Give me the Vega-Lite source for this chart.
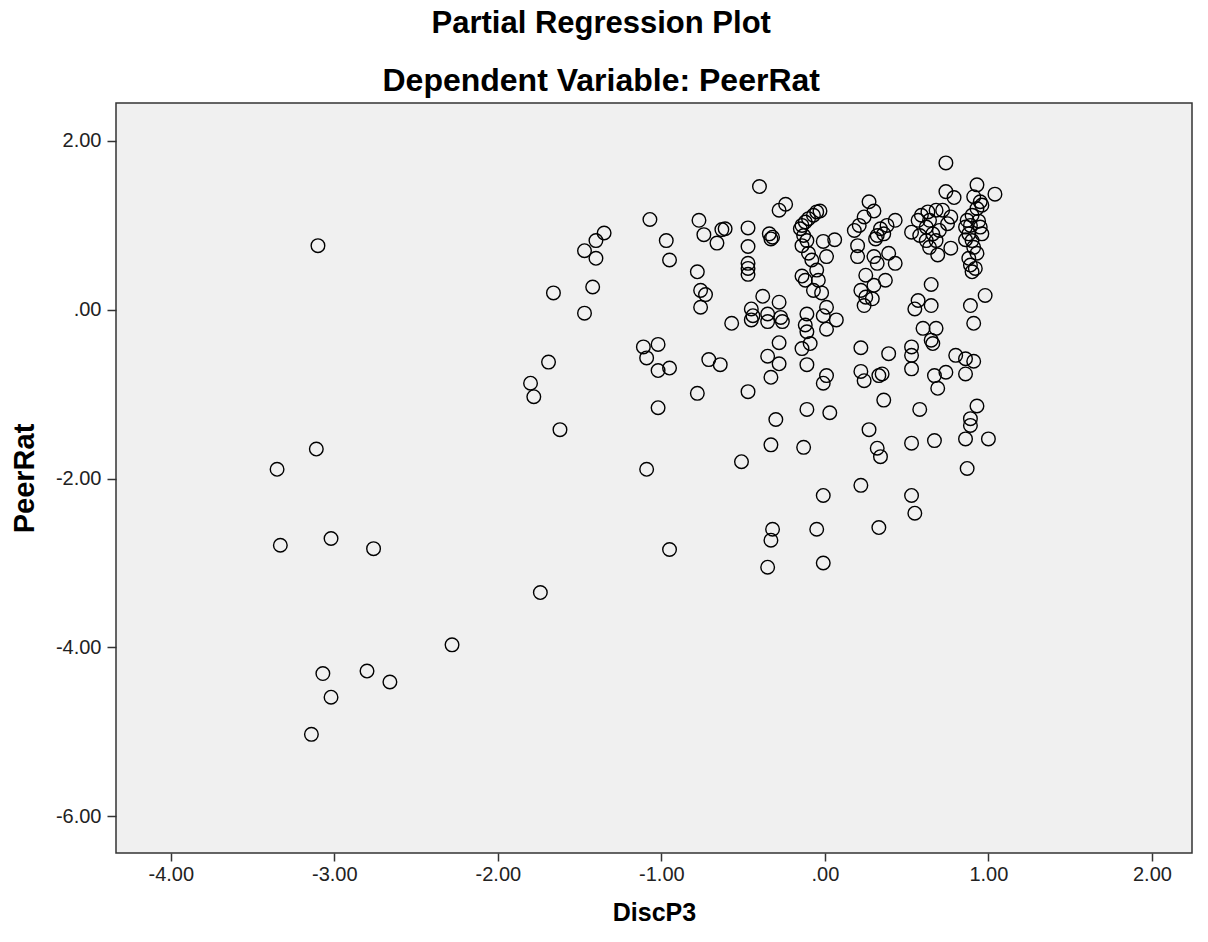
{
 "$schema": "https://vega.github.io/schema/vega-lite/v6.json",
 "width": 1076, "height": 750,
 "autosize": {"type": "none"},
 "padding": {"left": 116, "top": 103, "right": 16, "bottom": 89},
 "background": "white",
 "title": {"text": "Partial Regression Plot", "subtitle": "Dependent Variable: PeerRat", "anchor": "middle", "frame": "bounds", "font": "Liberation Sans", "fontSize": 31, "fontWeight": "bold", "color": "#000", "subtitleFont": "Liberation Sans", "subtitleFontSize": 32, "subtitleFontWeight": "bold", "subtitleColor": "#000", "offset": 5, "subtitlePadding": 26},
 "config": {"view": {"fill": "#f0f0f0", "stroke": "#333", "strokeWidth": 1.5}},
 "data": {"values": [
  {"DiscP3": -3.10, "PeerRat": 0.76}, {"DiscP3": -3.11, "PeerRat": -1.65}, {"DiscP3": -3.35, "PeerRat": -1.89}, {"DiscP3": -3.33, "PeerRat": -2.79}, {"DiscP3": -3.02, "PeerRat": -2.71}, {"DiscP3": -2.76, "PeerRat": -2.83}, {"DiscP3": -2.28, "PeerRat": -3.97}, {"DiscP3": -3.07, "PeerRat": -4.31}, {"DiscP3": -2.80, "PeerRat": -4.28}, {"DiscP3": -2.66, "PeerRat": -4.41}, {"DiscP3": -3.02, "PeerRat": -4.59}, {"DiscP3": -3.14, "PeerRat": -5.03}, {"DiscP3": -1.74, "PeerRat": -3.35}, {"DiscP3": -0.95, "PeerRat": -2.84},
  {"DiscP3": -1.11, "PeerRat": -0.44}, {"DiscP3": -1.02, "PeerRat": -0.41}, {"DiscP3": -1.09, "PeerRat": -0.57}, {"DiscP3": -1.02, "PeerRat": -0.72}, {"DiscP3": -0.95, "PeerRat": -0.69}, {"DiscP3": -1.69, "PeerRat": -0.62}, {"DiscP3": -1.80, "PeerRat": -0.87}, {"DiscP3": -1.78, "PeerRat": -1.03}, {"DiscP3": -1.62, "PeerRat": -1.42}, {"DiscP3": -1.02, "PeerRat": -1.16}, {"DiscP3": -1.09, "PeerRat": -1.89}, {"DiscP3": -0.78, "PeerRat": -0.99},
  {"DiscP3": -1.07, "PeerRat": 1.07}, {"DiscP3": -1.35, "PeerRat": 0.91}, {"DiscP3": -1.40, "PeerRat": 0.82}, {"DiscP3": -1.47, "PeerRat": 0.70}, {"DiscP3": -1.40, "PeerRat": 0.61}, {"DiscP3": -0.97, "PeerRat": 0.82}, {"DiscP3": -0.95, "PeerRat": 0.59}, {"DiscP3": -1.66, "PeerRat": 0.20}, {"DiscP3": -1.42, "PeerRat": 0.27}, {"DiscP3": -1.47, "PeerRat": -0.04}, {"DiscP3": -0.77, "PeerRat": 1.06}, {"DiscP3": -0.78, "PeerRat": 0.45}, {"DiscP3": -0.76, "PeerRat": 0.23}, {"DiscP3": -0.76, "PeerRat": 0.03},
  {"DiscP3": -0.40, "PeerRat": 1.46}, {"DiscP3": -0.28, "PeerRat": 1.18}, {"DiscP3": -0.24, "PeerRat": 1.25}, {"DiscP3": -0.74, "PeerRat": 0.89}, {"DiscP3": -0.66, "PeerRat": 0.79}, {"DiscP3": -0.63, "PeerRat": 0.95}, {"DiscP3": -0.61, "PeerRat": 0.96}, {"DiscP3": -0.47, "PeerRat": 0.97}, {"DiscP3": -0.47, "PeerRat": 0.75}, {"DiscP3": -0.47, "PeerRat": 0.55}, {"DiscP3": -0.47, "PeerRat": 0.49}, {"DiscP3": -0.47, "PeerRat": 0.42}, {"DiscP3": -0.34, "PeerRat": 0.90}, {"DiscP3": -0.32, "PeerRat": 0.86}, {"DiscP3": -0.33, "PeerRat": 0.84}, {"DiscP3": -0.73, "PeerRat": 0.18}, {"DiscP3": -0.57, "PeerRat": -0.16}, {"DiscP3": -0.38, "PeerRat": 0.16}, {"DiscP3": -0.28, "PeerRat": 0.09}, {"DiscP3": -0.45, "PeerRat": 0.01}, {"DiscP3": -0.44, "PeerRat": -0.07}, {"DiscP3": -0.45, "PeerRat": -0.12}, {"DiscP3": -0.35, "PeerRat": -0.05}, {"DiscP3": -0.35, "PeerRat": -0.14}, {"DiscP3": -0.27, "PeerRat": -0.09}, {"DiscP3": -0.26, "PeerRat": -0.14},
  {"DiscP3": -0.14, "PeerRat": 1.00}, {"DiscP3": -0.12, "PeerRat": 1.04}, {"DiscP3": -0.10, "PeerRat": 1.08}, {"DiscP3": -0.07, "PeerRat": 1.12}, {"DiscP3": -0.05, "PeerRat": 1.16}, {"DiscP3": -0.03, "PeerRat": 1.17}, {"DiscP3": -0.15, "PeerRat": 0.96}, {"DiscP3": -0.13, "PeerRat": 0.88}, {"DiscP3": -0.14, "PeerRat": 0.76}, {"DiscP3": -0.11, "PeerRat": 0.82}, {"DiscP3": -0.10, "PeerRat": 0.67}, {"DiscP3": -0.08, "PeerRat": 0.59}, {"DiscP3": -0.01, "PeerRat": 0.81}, {"DiscP3": 0.06, "PeerRat": 0.83}, {"DiscP3": 0.01, "PeerRat": 0.63}, {"DiscP3": -0.14, "PeerRat": 0.40}, {"DiscP3": -0.12, "PeerRat": 0.35}, {"DiscP3": -0.05, "PeerRat": 0.47}, {"DiscP3": -0.04, "PeerRat": 0.35}, {"DiscP3": -0.07, "PeerRat": 0.23}, {"DiscP3": -0.02, "PeerRat": 0.20}, {"DiscP3": 0.01, "PeerRat": 0.03}, {"DiscP3": -0.01, "PeerRat": -0.07}, {"DiscP3": 0.07, "PeerRat": -0.12}, {"DiscP3": 0.01, "PeerRat": -0.23}, {"DiscP3": -0.11, "PeerRat": -0.05}, {"DiscP3": -0.12, "PeerRat": -0.18}, {"DiscP3": -0.11, "PeerRat": -0.26},
  {"DiscP3": -0.28, "PeerRat": -0.39}, {"DiscP3": -0.14, "PeerRat": -0.46}, {"DiscP3": -0.09, "PeerRat": -0.40}, {"DiscP3": -0.35, "PeerRat": -0.55}, {"DiscP3": -0.28, "PeerRat": -0.64}, {"DiscP3": -0.33, "PeerRat": -0.80}, {"DiscP3": -0.11, "PeerRat": -0.65}, {"DiscP3": -0.71, "PeerRat": -0.59}, {"DiscP3": -0.64, "PeerRat": -0.65}, {"DiscP3": -0.47, "PeerRat": -0.97}, {"DiscP3": 0.01, "PeerRat": -0.78}, {"DiscP3": -0.01, "PeerRat": -0.87}, {"DiscP3": -0.11, "PeerRat": -1.18}, {"DiscP3": 0.03, "PeerRat": -1.22}, {"DiscP3": -0.30, "PeerRat": -1.30}, {"DiscP3": -0.33, "PeerRat": -1.60}, {"DiscP3": -0.13, "PeerRat": -1.63}, {"DiscP3": -0.51, "PeerRat": -1.80}, {"DiscP3": -0.01, "PeerRat": -2.20}, {"DiscP3": -0.32, "PeerRat": -2.60}, {"DiscP3": -0.33, "PeerRat": -2.73}, {"DiscP3": -0.05, "PeerRat": -2.60}, {"DiscP3": -0.35, "PeerRat": -3.05}, {"DiscP3": -0.01, "PeerRat": -3.00},
  {"DiscP3": 0.74, "PeerRat": 1.74}, {"DiscP3": 0.74, "PeerRat": 1.40}, {"DiscP3": 0.79, "PeerRat": 1.33}, {"DiscP3": 1.04, "PeerRat": 1.37}, {"DiscP3": 0.93, "PeerRat": 1.48}, {"DiscP3": 0.91, "PeerRat": 1.34}, {"DiscP3": 0.95, "PeerRat": 1.28}, {"DiscP3": 0.27, "PeerRat": 1.28}, {"DiscP3": 0.30, "PeerRat": 1.17}, {"DiscP3": 0.21, "PeerRat": 1.00}, {"DiscP3": 0.24, "PeerRat": 1.10}, {"DiscP3": 0.18, "PeerRat": 0.94}, {"DiscP3": 0.43, "PeerRat": 1.06}, {"DiscP3": 0.38, "PeerRat": 1.00}, {"DiscP3": 0.34, "PeerRat": 0.96}, {"DiscP3": 0.32, "PeerRat": 0.88}, {"DiscP3": 0.31, "PeerRat": 0.84}, {"DiscP3": 0.36, "PeerRat": 0.90}, {"DiscP3": 0.20, "PeerRat": 0.76}, {"DiscP3": 0.20, "PeerRat": 0.63}, {"DiscP3": 0.30, "PeerRat": 0.63}, {"DiscP3": 0.32, "PeerRat": 0.55}, {"DiscP3": 0.39, "PeerRat": 0.67}, {"DiscP3": 0.43, "PeerRat": 0.55}, {"DiscP3": 0.25, "PeerRat": 0.41}, {"DiscP3": 0.30, "PeerRat": 0.29}, {"DiscP3": 0.37, "PeerRat": 0.35}, {"DiscP3": 0.22, "PeerRat": 0.23}, {"DiscP3": 0.25, "PeerRat": 0.15}, {"DiscP3": 0.29, "PeerRat": 0.13}, {"DiscP3": 0.24, "PeerRat": 0.05},
  {"DiscP3": 0.53, "PeerRat": 0.92}, {"DiscP3": 0.57, "PeerRat": 1.06}, {"DiscP3": 0.59, "PeerRat": 1.12}, {"DiscP3": 0.63, "PeerRat": 1.16}, {"DiscP3": 0.68, "PeerRat": 1.18}, {"DiscP3": 0.72, "PeerRat": 1.18}, {"DiscP3": 0.77, "PeerRat": 1.10}, {"DiscP3": 0.62, "PeerRat": 0.98}, {"DiscP3": 0.66, "PeerRat": 0.90}, {"DiscP3": 0.68, "PeerRat": 0.82}, {"DiscP3": 0.69, "PeerRat": 0.65}, {"DiscP3": 0.77, "PeerRat": 0.73}, {"DiscP3": 0.62, "PeerRat": 0.82}, {"DiscP3": 0.75, "PeerRat": 1.02}, {"DiscP3": 0.64, "PeerRat": 1.06}, {"DiscP3": 0.70, "PeerRat": 0.94}, {"DiscP3": 0.58, "PeerRat": 0.88}, {"DiscP3": 0.64, "PeerRat": 0.74},
  {"DiscP3": 0.87, "PeerRat": 1.06}, {"DiscP3": 0.90, "PeerRat": 1.12}, {"DiscP3": 0.93, "PeerRat": 1.20}, {"DiscP3": 0.96, "PeerRat": 1.24}, {"DiscP3": 0.86, "PeerRat": 0.98}, {"DiscP3": 0.88, "PeerRat": 0.90}, {"DiscP3": 0.90, "PeerRat": 0.82}, {"DiscP3": 0.91, "PeerRat": 0.74}, {"DiscP3": 0.93, "PeerRat": 0.67}, {"DiscP3": 0.96, "PeerRat": 0.90}, {"DiscP3": 0.86, "PeerRat": 0.83}, {"DiscP3": 0.88, "PeerRat": 0.61}, {"DiscP3": 0.89, "PeerRat": 0.53}, {"DiscP3": 0.92, "PeerRat": 0.49}, {"DiscP3": 0.90, "PeerRat": 0.45}, {"DiscP3": 0.94, "PeerRat": 1.05}, {"DiscP3": 0.95, "PeerRat": 0.98}, {"DiscP3": 0.89, "PeerRat": 1.00},
  {"DiscP3": 0.65, "PeerRat": 0.30}, {"DiscP3": 0.57, "PeerRat": 0.11}, {"DiscP3": 0.55, "PeerRat": 0.01}, {"DiscP3": 0.65, "PeerRat": 0.05}, {"DiscP3": 0.89, "PeerRat": 0.05}, {"DiscP3": 0.98, "PeerRat": 0.17},
  {"DiscP3": 0.60, "PeerRat": -0.22}, {"DiscP3": 0.68, "PeerRat": -0.22}, {"DiscP3": 0.65, "PeerRat": -0.36}, {"DiscP3": 0.66, "PeerRat": -0.40}, {"DiscP3": 0.91, "PeerRat": -0.16}, {"DiscP3": 0.22, "PeerRat": -0.45}, {"DiscP3": 0.39, "PeerRat": -0.52}, {"DiscP3": 0.53, "PeerRat": -0.44}, {"DiscP3": 0.53, "PeerRat": -0.54}, {"DiscP3": 0.53, "PeerRat": -0.70}, {"DiscP3": 0.22, "PeerRat": -0.73}, {"DiscP3": 0.24, "PeerRat": -0.84}, {"DiscP3": 0.33, "PeerRat": -0.78}, {"DiscP3": 0.35, "PeerRat": -0.76}, {"DiscP3": 0.80, "PeerRat": -0.54}, {"DiscP3": 0.86, "PeerRat": -0.58}, {"DiscP3": 0.91, "PeerRat": -0.61}, {"DiscP3": 0.86, "PeerRat": -0.76}, {"DiscP3": 0.67, "PeerRat": -0.78}, {"DiscP3": 0.74, "PeerRat": -0.74}, {"DiscP3": 0.69, "PeerRat": -0.93}, {"DiscP3": 0.36, "PeerRat": -1.07}, {"DiscP3": 0.58, "PeerRat": -1.18}, {"DiscP3": 0.93, "PeerRat": -1.14}, {"DiscP3": 0.89, "PeerRat": -1.29}, {"DiscP3": 0.89, "PeerRat": -1.37}, {"DiscP3": 0.27, "PeerRat": -1.42}, {"DiscP3": 0.32, "PeerRat": -1.64}, {"DiscP3": 0.34, "PeerRat": -1.74}, {"DiscP3": 0.53, "PeerRat": -1.58}, {"DiscP3": 0.67, "PeerRat": -1.55}, {"DiscP3": 0.86, "PeerRat": -1.53}, {"DiscP3": 1.00, "PeerRat": -1.53}, {"DiscP3": 0.87, "PeerRat": -1.88}, {"DiscP3": 0.22, "PeerRat": -2.08}, {"DiscP3": 0.53, "PeerRat": -2.20}, {"DiscP3": 0.55, "PeerRat": -2.41}, {"DiscP3": 0.33, "PeerRat": -2.58}
 ]},
 "mark": {"type": "point", "shape": "circle", "filled": false, "stroke": "#000", "strokeWidth": 1.4, "size": 185, "opacity": 1},
 "encoding": {
  "x": {"field": "DiscP3", "type": "quantitative", "scale": {"domain": [-4.335, 2.245], "nice": false, "zero": false},
   "axis": {"values": [-4, -3, -2, -1, 0, 1, 2], "labelExpr": "datum.value == 0 ? '.00' : replace(format(datum.value, '.2f'), '\u2212', '-')", "domain": false, "grid": false, "ticks": true, "tickSize": 8, "tickWidth": 1.5, "tickColor": "#333", "labelFont": "Liberation Sans", "labelFontSize": 20, "labelColor": "#222", "labelPadding": 3, "title": "DiscP3", "titleFont": "Liberation Sans", "titleFontSize": 25, "titleFontWeight": "bold", "titleColor": "#000", "titlePadding": 16}},
  "y": {"field": "PeerRat", "type": "quantitative", "scale": {"domain": [-6.436, 2.45], "nice": false, "zero": false},
   "axis": {"values": [2, 0, -2, -4, -6], "labelExpr": "datum.value == 0 ? '.00' : replace(format(datum.value, '.2f'), '\u2212', '-')", "domain": false, "grid": false, "ticks": true, "tickSize": 9, "tickWidth": 1.5, "tickColor": "#333", "labelFont": "Liberation Sans", "labelFontSize": 20, "labelColor": "#222", "labelPadding": 6, "title": "PeerRat", "titleFont": "Liberation Sans", "titleFontSize": 29, "titleFontWeight": "bold", "titleColor": "#000", "titlePadding": 16}}
 }
}
